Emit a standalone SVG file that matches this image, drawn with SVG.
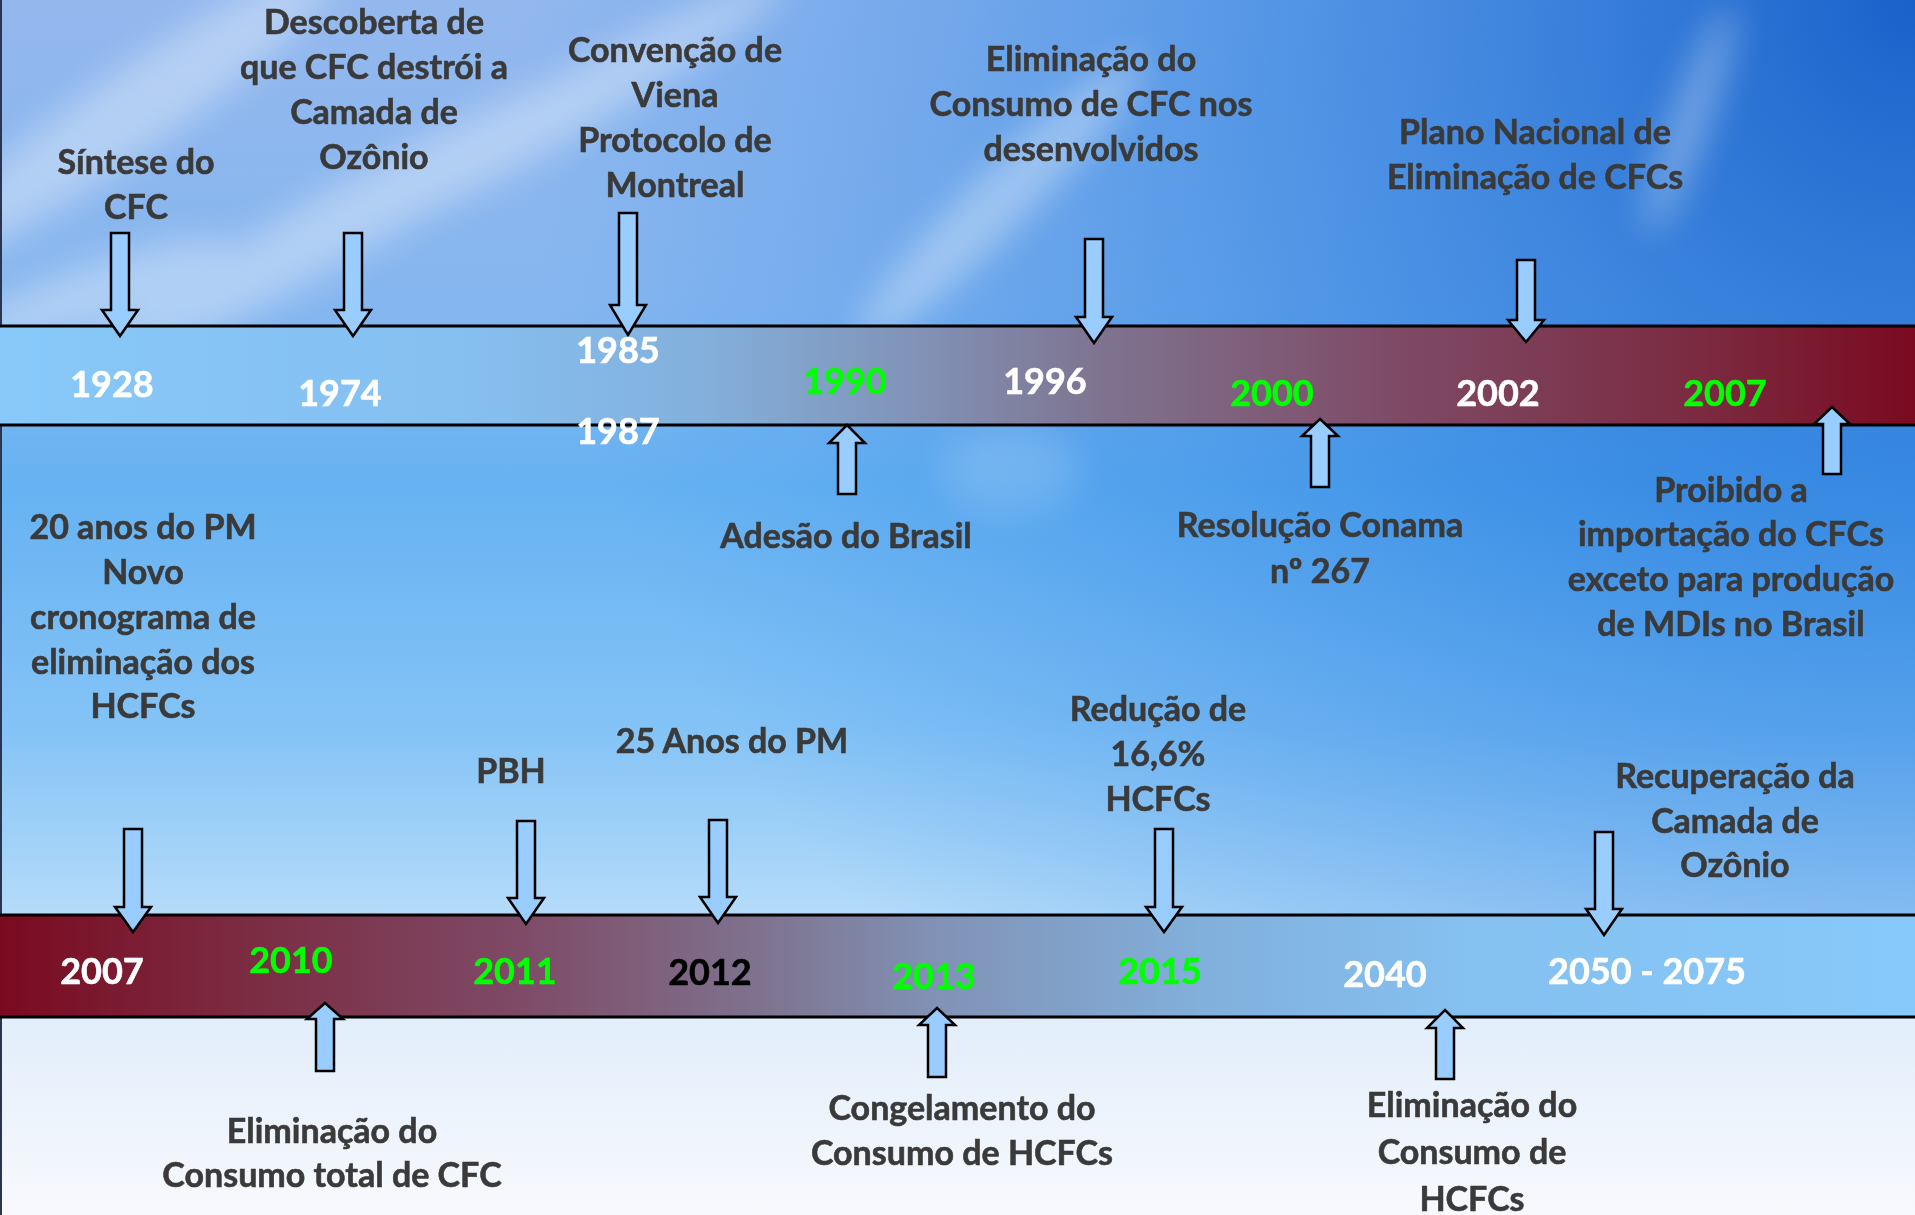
<svg xmlns="http://www.w3.org/2000/svg" width="1915" height="1215" viewBox="0 0 1915 1215">
<defs>
<linearGradient id="sky" x1="0" y1="0" x2="0" y2="1215" gradientUnits="userSpaceOnUse">
<stop offset="0" stop-color="#93b8ee"/>
<stop offset="0.25" stop-color="#86b6ef"/>
<stop offset="0.4" stop-color="#66b2f2"/>
<stop offset="0.6" stop-color="#84c3f6"/>
<stop offset="0.75" stop-color="#b4dbf9"/>
<stop offset="0.84" stop-color="#e2eefb"/>
<stop offset="1" stop-color="#f8f9fd"/>
</linearGradient>
<radialGradient id="deep" cx="1915" cy="0" r="1400" gradientUnits="userSpaceOnUse">
<stop offset="0" stop-color="#0c58c6" stop-opacity="0.9"/>
<stop offset="0.45" stop-color="#1f78de" stop-opacity="0.55"/>
<stop offset="1" stop-color="#3a90ea" stop-opacity="0"/>
</radialGradient>
<linearGradient id="band1" x1="0" y1="0" x2="1915" y2="0" gradientUnits="userSpaceOnUse">
<stop offset="0" stop-color="#87c9fa"/>
<stop offset="0.245" stop-color="#85bff0"/>
<stop offset="0.366" stop-color="#83b0dc"/>
<stop offset="0.48" stop-color="#8192b6"/>
<stop offset="0.574" stop-color="#7e7490"/>
<stop offset="0.73" stop-color="#7e4a66"/>
<stop offset="0.89" stop-color="#7b2a40"/>
<stop offset="1" stop-color="#7a0a20"/>
</linearGradient>
<linearGradient id="band2" x1="0" y1="0" x2="1915" y2="0" gradientUnits="userSpaceOnUse">
<stop offset="0" stop-color="#7a0a20"/>
<stop offset="0.12" stop-color="#7b2a40"/>
<stop offset="0.27" stop-color="#7e4a66"/>
<stop offset="0.4" stop-color="#7e7490"/>
<stop offset="0.49" stop-color="#8192b6"/>
<stop offset="0.63" stop-color="#82b0dc"/>
<stop offset="0.76" stop-color="#84c0f0"/>
<stop offset="1" stop-color="#87c9fa"/>
</linearGradient>
<filter id="blur" x="-50%" y="-50%" width="200%" height="200%"><feGaussianBlur stdDeviation="18"/></filter>
<style>
.lbl{font-family:Lato,"Open Sans","Liberation Sans",sans-serif;font-weight:700;font-size:34px;fill:#3a3a3a;stroke:#3a3a3a;stroke-width:0.6;text-anchor:middle}
.yr{font-family:Lato,"Open Sans","Liberation Sans",sans-serif;font-weight:700;font-size:36px;text-anchor:middle;stroke-width:0.6}
.w{fill:#ffffff;stroke:#ffffff}.g{fill:#00ff00;stroke:#00ff00}.k{fill:#000000;stroke:#000000}
.arr{fill:#99ccff;stroke:#000000;stroke-width:2.5;stroke-linejoin:miter}
.band{stroke:#000000;stroke-width:3}
</style>
</defs>

<g id="background">
<rect x="0" y="0" width="1915" height="1215" fill="url(#sky)"/>
<rect x="0" y="0" width="1915" height="915" fill="url(#deep)"/>
<g fill="#ffffff" filter="url(#blur)" opacity="0.35">
<ellipse cx="120" cy="120" rx="260" ry="40" transform="rotate(-35 120 120)"/>
<ellipse cx="330" cy="230" rx="300" ry="35" transform="rotate(-30 330 230)"/>
<ellipse cx="80" cy="300" rx="160" ry="30" transform="rotate(-20 80 300)"/>
<ellipse cx="560" cy="110" rx="260" ry="30" transform="rotate(-30 560 110)"/>
<ellipse cx="1000" cy="200" rx="200" ry="30" transform="rotate(-45 1000 200)"/>
<ellipse cx="1690" cy="120" rx="120" ry="18" transform="rotate(-70 1690 120)"/>
</g>
<ellipse cx="1010" cy="470" rx="70" ry="45" fill="#ffffff" opacity="0.15" filter="url(#blur)"/>
<line x1="1" y1="0" x2="1" y2="1215" stroke="#2a3550" stroke-width="2"/>
</g>

<g id="bands">
<rect class="band" x="-5" y="326" width="1930" height="99" fill="url(#band1)"/>
<rect class="band" x="-5" y="915" width="1930" height="102" fill="url(#band2)"/>
</g>

<g id="connectors">
<polygon class="arr" points="111,233 129,233 129,310 138,310 120,336 102,310 111,310"/>
<polygon class="arr" points="344,233 362,233 362,310 371,310 353,336 335,310 344,310"/>
<polygon class="arr" points="619,213 637,213 637,305 646,305 628,335 610,305 619,305"/>
<polygon class="arr" points="1085,239 1103,239 1103,317 1112,317 1094,343 1076,317 1085,317"/>
<polygon class="arr" points="1517,260 1535,260 1535,320 1544,320 1526,342 1508,320 1517,320"/>
<polygon class="arr" points="847,425 865,443 856,443 856,494 838,494 838,443 829,443"/>
<polygon class="arr" points="1320,419 1338,436 1329,436 1329,487 1311,487 1311,436 1302,436"/>
<polygon class="arr" points="1832,407 1850,424 1841,424 1841,474 1823,474 1823,424 1814,424"/>
<polygon class="arr" points="124,829 142,829 142,907 151,907 133,932 115,907 124,907"/>
<polygon class="arr" points="517,821 535,821 535,898 544,898 526,924 508,898 517,898"/>
<polygon class="arr" points="709,820 727,820 727,897 736,897 718,923 700,897 709,897"/>
<polygon class="arr" points="1155,829 1173,829 1173,907 1182,907 1164,932 1146,907 1155,907"/>
<polygon class="arr" points="1595,832 1613,832 1613,909 1622,909 1604,935 1586,909 1595,909"/>
<polygon class="arr" points="325,1003 343,1019 334,1019 334,1071 316,1071 316,1019 307,1019"/>
<polygon class="arr" points="937,1008 955,1025 946,1025 946,1077 928,1077 928,1025 919,1025"/>
<polygon class="arr" points="1445,1010 1463,1028 1454,1028 1454,1079 1436,1079 1436,1028 1427,1028"/>
</g>

<g id="n1928"><text class="lbl" x="136" y="174">Síntese do</text><text class="lbl" x="136" y="219">CFC</text><text class="yr w" x="112" y="397">1928</text></g>
<g id="n1974"><text class="lbl" x="374" y="34">Descoberta de</text><text class="lbl" x="374" y="79">que CFC destrói a</text><text class="lbl" x="374" y="124">Camada de</text><text class="lbl" x="374" y="169">Ozônio</text><text class="yr w" x="340" y="406">1974</text></g>
<g id="n1985"><text class="lbl" x="675" y="62">Convenção de</text><text class="lbl" x="675" y="107">Viena</text><text class="lbl" x="675" y="152">Protocolo de</text><text class="lbl" x="675" y="197">Montreal</text><text class="yr w" x="618" y="363">1985</text><text class="yr w" x="618" y="444">1987</text></g>
<g id="n1990"><text class="yr g" x="845" y="394">1990</text><text class="lbl" x="846" y="548">Adesão do Brasil</text></g>
<g id="n1996"><text class="lbl" x="1091" y="71">Eliminação do</text><text class="lbl" x="1091" y="116">Consumo de CFC nos</text><text class="lbl" x="1091" y="161">desenvolvidos</text><text class="yr w" x="1045" y="394">1996</text></g>
<g id="n2000"><text class="yr g" x="1272" y="406">2000</text><text class="lbl" x="1320" y="537">Resolução Conama</text><text class="lbl" x="1320" y="583">nº 267</text></g>
<g id="n2002"><text class="lbl" x="1535" y="144">Plano Nacional de</text><text class="lbl" x="1535" y="189">Eliminação de CFCs</text><text class="yr w" x="1498" y="406">2002</text></g>
<g id="n2007a"><text class="yr g" x="1725" y="406">2007</text><text class="lbl" x="1731" y="502">Proibido a</text><text class="lbl" x="1731" y="546">importação do CFCs</text><text class="lbl" x="1731" y="591">exceto para produção</text><text class="lbl" x="1731" y="636">de MDIs no Brasil</text></g>

<g id="n2007b"><text class="lbl" x="143" y="539">20 anos do PM</text><text class="lbl" x="143" y="584">Novo</text><text class="lbl" x="143" y="629">cronograma de</text><text class="lbl" x="143" y="674">eliminação dos</text><text class="lbl" x="143" y="718">HCFCs</text><text class="yr w" x="102" y="984">2007</text></g>
<g id="n2010"><text class="yr g" x="291" y="973">2010</text><text class="lbl" x="332" y="1143">Eliminação do</text><text class="lbl" x="332" y="1187">Consumo total de CFC</text></g>
<g id="n2011"><text class="lbl" x="511" y="783">PBH</text><text class="yr g" x="515" y="984">2011</text></g>
<g id="n2012"><text class="lbl" x="732" y="753">25 Anos do PM</text><text class="yr k" x="710" y="985">2012</text></g>
<g id="n2013"><text class="yr g" x="934" y="989">2013</text><text class="lbl" x="962" y="1120">Congelamento do</text><text class="lbl" x="962" y="1165">Consumo de HCFCs</text></g>
<g id="n2015"><text class="lbl" x="1158" y="721">Redução de</text><text class="lbl" x="1158" y="766">16,6%</text><text class="lbl" x="1158" y="811">HCFCs</text><text class="yr g" x="1160" y="984">2015</text></g>
<g id="n2040"><text class="yr w" x="1385" y="987">2040</text><text class="lbl" x="1472" y="1117">Eliminação do</text><text class="lbl" x="1472" y="1164">Consumo de</text><text class="lbl" x="1472" y="1211">HCFCs</text></g>
<g id="n2050"><text class="lbl" x="1735" y="788">Recuperação da</text><text class="lbl" x="1735" y="833">Camada de</text><text class="lbl" x="1735" y="877">Ozônio</text><text class="yr w" x="1647" y="984">2050 - 2075</text></g>
</svg>
